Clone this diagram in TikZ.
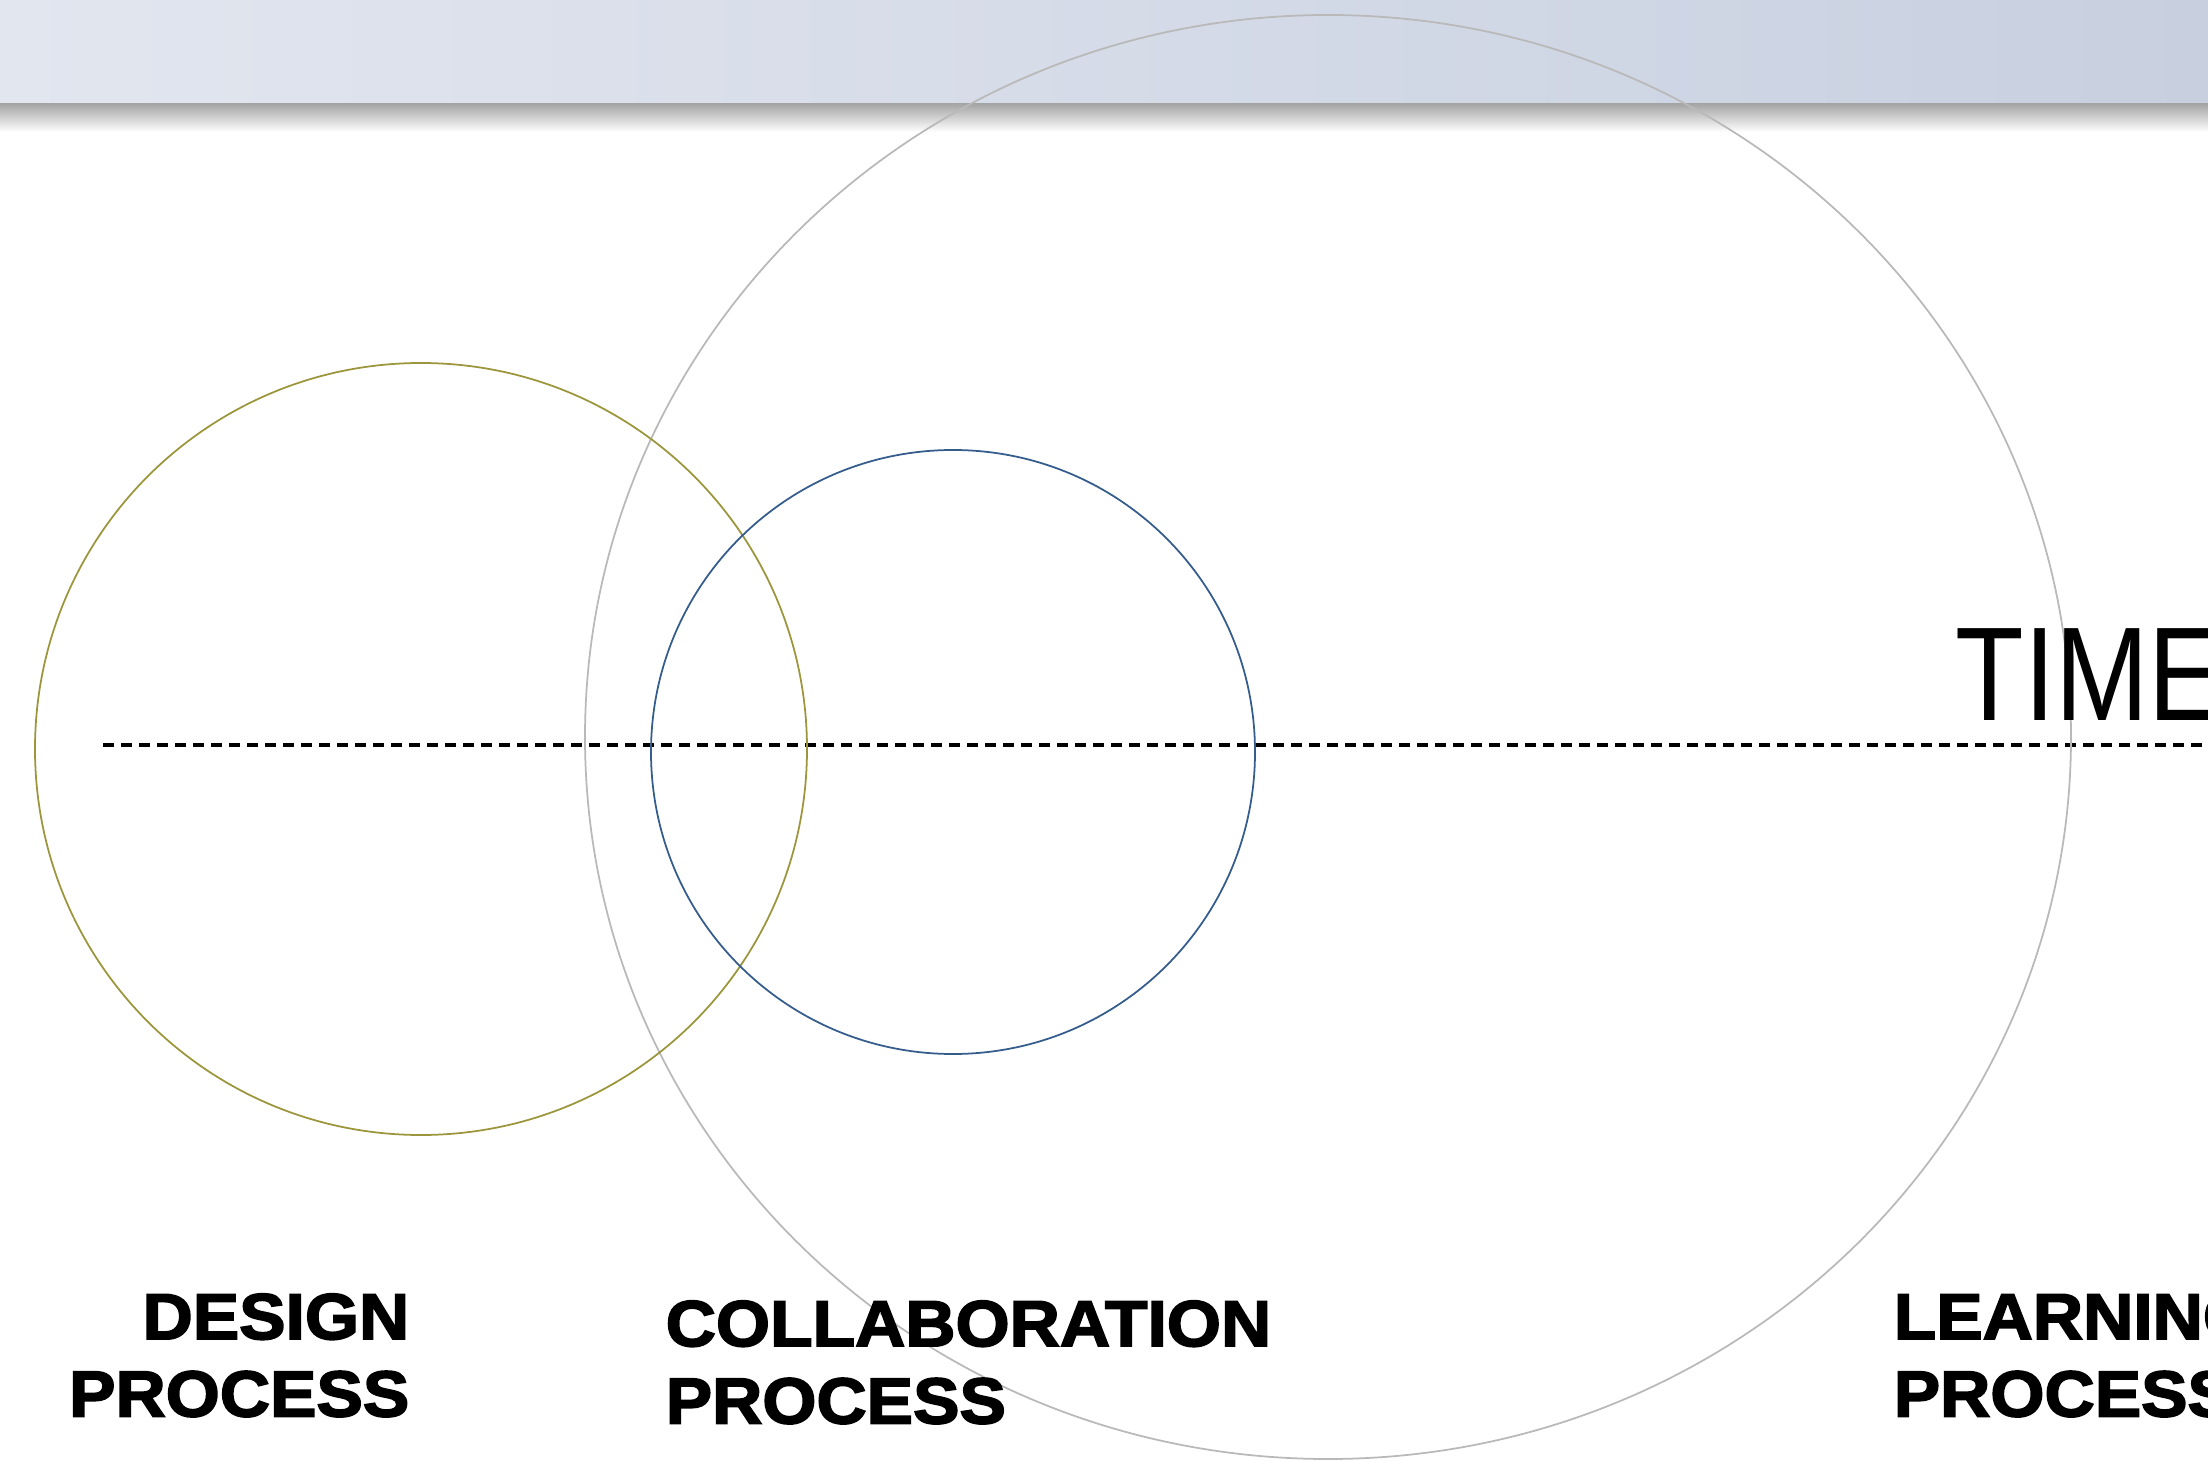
\documentclass[tikz,border=0pt]{standalone}
\usepackage{fontspec}
\setmainfont{Liberation Sans}
\newfontfamily\blackfont{Liberation Sans Bold}[FakeBold=2.6,FakeStretch=1.07]
\newfontfamily\timefont{Liberation Sans}[FakeStretch=0.84]
\usepackage{tikz}
\usetikzlibrary{calc}

\definecolor{barleft}{RGB}{226,230,239}
\definecolor{barright}{RGB}{200,208,224}
\definecolor{olivering}{RGB}{155,150,60}
\definecolor{bluering}{RGB}{52,92,140}
\definecolor{grayring}{RGB}{185,185,185}

\tikzset{
  ring/.style={line width=0.5pt},
  procname/.style={inner sep=0pt,font=\blackfont\fontsize{18.5}{22}\selectfont}
}

\begin{document}
\begin{tikzpicture}
                      \useasboundingbox (0,0) rectangle (22.08,-14.61);
                      \clip (0,0) rectangle (22.08,-14.61);
                      % header bar
                      \shade[left color=barleft,right color=barright] (0,0) rectangle (22.08,-1.04);
                      \shade[top color=gray!70,bottom color=white] (0,-1.04) rectangle (22.08,-1.32);
                      % time line
                      \coordinate (t0) at (1.03,-7.45);
                      \coordinate (t1) at (22.08,-7.45);
                      \draw[line width=0.9pt,dash pattern=on 0.11cm off 0.07cm] (t0) -- (t1);
                      % rings
                      \draw[ring,color=grayring] (13.28,-7.37) ellipse (7.43 and 7.22);
                      \draw[ring,color=olivering] (4.21,-7.49) circle (3.86);
                      \draw[ring,color=bluering] (9.53,-7.52) circle (3.02);
                      % labels
                      \node[inner sep=0pt,anchor=base west,font=\timefont\fontsize{38}{40}\selectfont](time)at(19.55,-7.20){TIME};
                      \node[procname,anchor=north east,align=right](design)at(4.10,-12.93){DESIGN\\PROCESS};
                      \node[procname,anchor=north west,align=left](collab)at(6.65,-13.00){COLLABORATION\\PROCESS};
                      \node[procname,anchor=north west,align=left](learn)at(18.93,-12.93){LEARNING\\PROCESS};
                  \end{tikzpicture}
\end{document}
